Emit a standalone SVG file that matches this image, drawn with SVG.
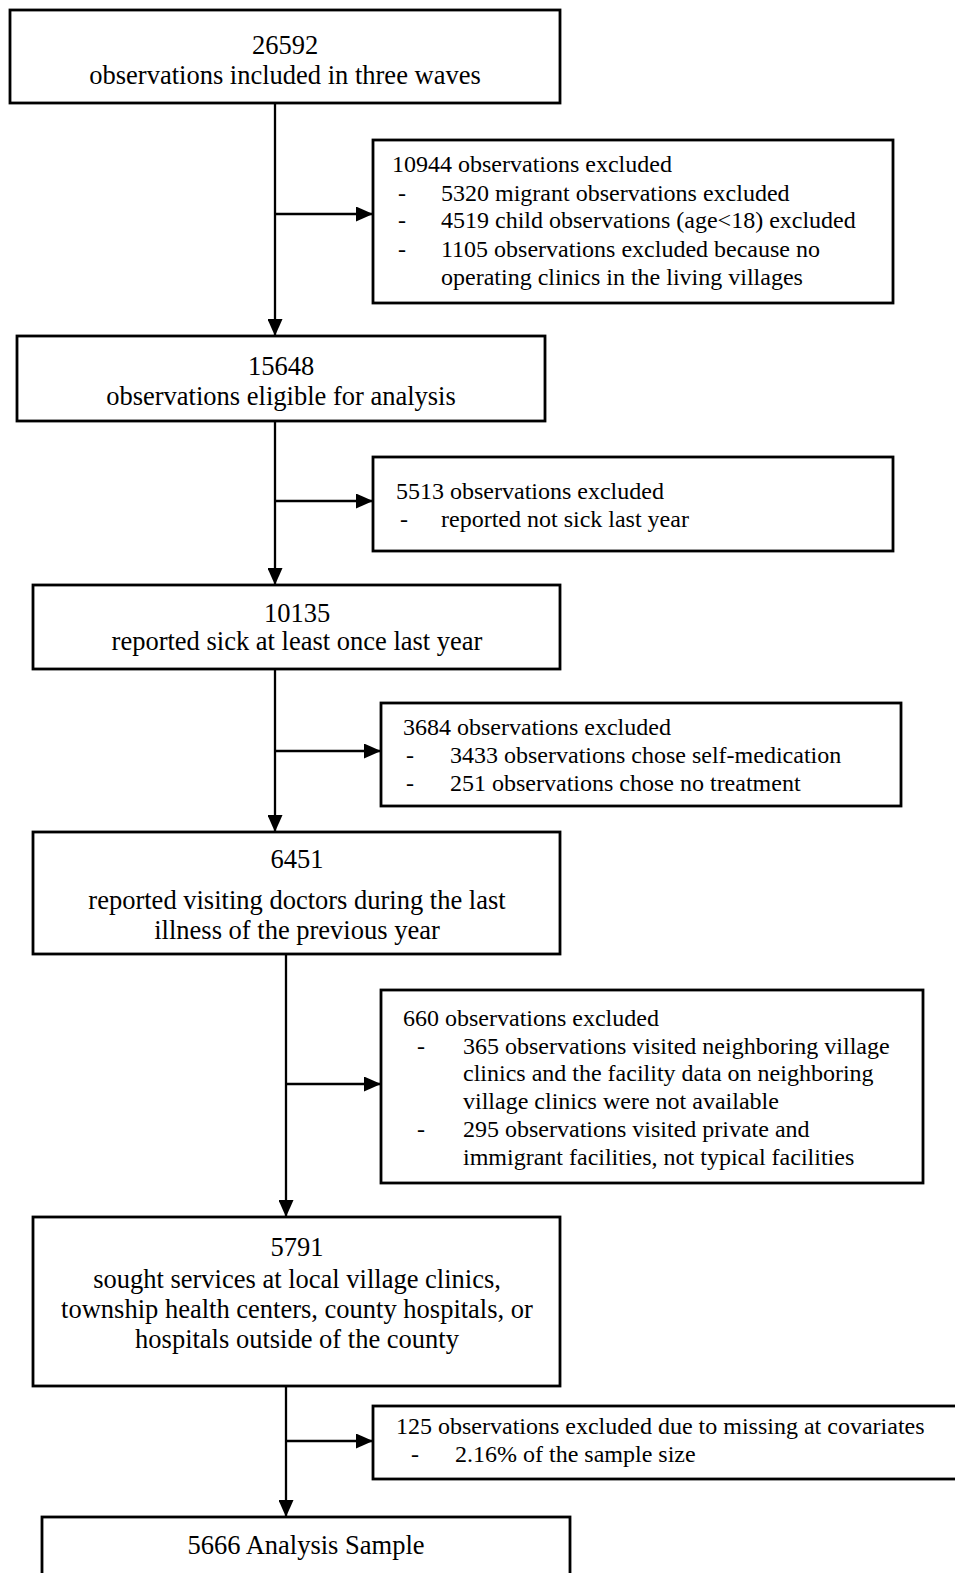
<svg xmlns="http://www.w3.org/2000/svg" width="955" height="1573" viewBox="0 0 955 1573">
<defs>
<style>
.box{fill:#fff;stroke:#000;stroke-width:2.8}
.ln{fill:none;stroke:#000;stroke-width:2.3}
text{font-family:"Liberation Serif","Times New Roman",serif;font-size:24px;fill:#000}
.c{text-anchor:middle;font-size:26.5px}
</style>
<marker id="ah" viewBox="0 0 17 15" refX="17" refY="7.5" markerWidth="17" markerHeight="15" markerUnits="userSpaceOnUse" orient="auto">
<path d="M0,0 L17,7.5 L0,15 z" fill="#000"/>
</marker>
</defs>
<rect width="955" height="1573" fill="#fff"/>
<g id="connectors">
<path class="ln" d="M275,103 V336" marker-end="url(#ah)"/>
<path class="ln" d="M275,214 H373" marker-end="url(#ah)"/>
<path class="ln" d="M275,421 V585" marker-end="url(#ah)"/>
<path class="ln" d="M275,501 H373" marker-end="url(#ah)"/>
<path class="ln" d="M275,669 V832" marker-end="url(#ah)"/>
<path class="ln" d="M275,751 H381" marker-end="url(#ah)"/>
<path class="ln" d="M286,954 V1217" marker-end="url(#ah)"/>
<path class="ln" d="M286,1084 H381" marker-end="url(#ah)"/>
<path class="ln" d="M286,1386 V1517" marker-end="url(#ah)"/>
<path class="ln" d="M286,1441 H373" marker-end="url(#ah)"/>
</g>
<g id="n1">
<rect class="box" x="10" y="10" width="550" height="93"/>
<text class="c" x="285" y="54">26592</text>
<text class="c" x="285" y="84">observations included in three waves</text>
</g>
<g id="e1">
<rect class="box" x="373" y="140" width="520" height="163"/>
<text x="392" y="172">10944 observations excluded</text>
<text x="398" y="201">-</text><text x="441" y="201">5320 migrant observations excluded</text>
<text x="398" y="228">-</text><text x="441" y="228">4519 child observations (age&lt;18) excluded</text>
<text x="398" y="257">-</text><text x="441" y="257">1105 observations excluded because no</text>
<text x="441" y="285">operating clinics in the living villages</text>
</g>
<g id="n2">
<rect class="box" x="17" y="336" width="528" height="85"/>
<text class="c" x="281" y="375">15648</text>
<text class="c" x="281" y="405">observations eligible for analysis</text>
</g>
<g id="e2">
<rect class="box" x="373" y="457" width="520" height="94"/>
<text x="396" y="499">5513 observations excluded</text>
<text x="400" y="527">-</text><text x="441" y="527">reported not sick last year</text>
</g>
<g id="n3">
<rect class="box" x="33" y="585" width="527" height="84"/>
<text class="c" x="297" y="622">10135</text>
<text class="c" x="297" y="650">reported sick at least once last year</text>
</g>
<g id="e3">
<rect class="box" x="381" y="703" width="520" height="103"/>
<text x="403" y="735">3684 observations excluded</text>
<text x="406" y="763">-</text><text x="450" y="763">3433 observations chose self-medication</text>
<text x="406" y="791">-</text><text x="450" y="791">251 observations chose no treatment</text>
</g>
<g id="n4">
<rect class="box" x="33" y="832" width="527" height="122"/>
<text class="c" x="297" y="868">6451</text>
<text class="c" x="297" y="909">reported visiting doctors during the last</text>
<text class="c" x="297" y="939">illness of the previous year</text>
</g>
<g id="e4">
<rect class="box" x="381" y="990" width="542" height="193"/>
<text x="403" y="1026">660 observations excluded</text>
<text x="417" y="1054">-</text><text x="463" y="1054">365 observations visited neighboring village</text>
<text x="463" y="1081">clinics and the facility data on neighboring</text>
<text x="463" y="1109">village clinics were not available</text>
<text x="417" y="1137">-</text><text x="463" y="1137">295 observations visited private and</text>
<text x="463" y="1165">immigrant facilities, not typical facilities</text>
</g>
<g id="n5">
<rect class="box" x="33" y="1217" width="527" height="169"/>
<text class="c" x="297" y="1256">5791</text>
<text class="c" x="297" y="1288">sought services at local village clinics,</text>
<text class="c" x="297" y="1318">township health centers, county hospitals, or</text>
<text class="c" x="297" y="1348">hospitals outside of the county</text>
</g>
<g id="e5">
<rect class="box" x="373" y="1406" width="585" height="73"/>
<text x="396" y="1434">125 observations excluded due to missing at covariates</text>
<text x="411" y="1462">-</text><text x="455" y="1462">2.16% of the sample size</text>
</g>
<g id="n6">
<rect class="box" x="42" y="1517" width="528" height="60"/>
<text class="c" x="306" y="1554">5666 Analysis Sample</text>
</g>
</svg>
